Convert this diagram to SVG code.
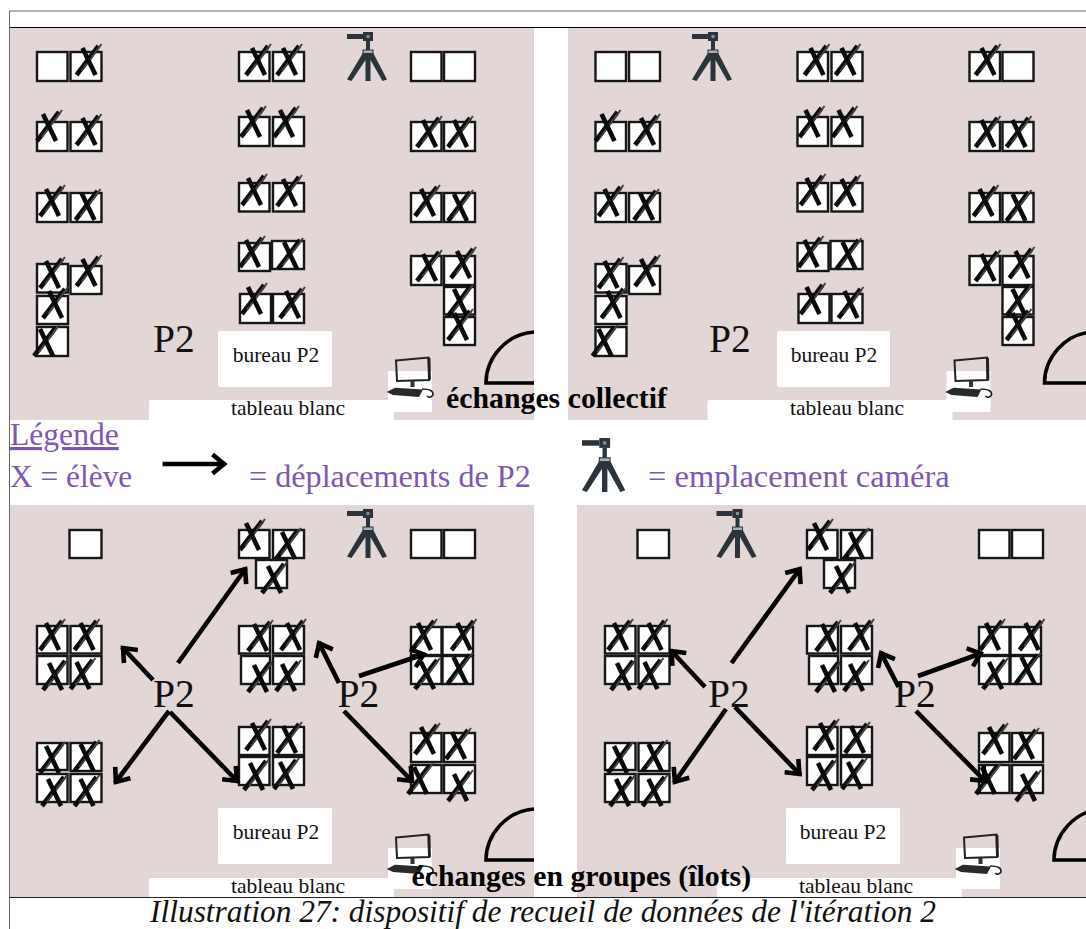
<svg xmlns="http://www.w3.org/2000/svg" width="1086" height="929" viewBox="0 0 1086 929">
<style>
.room{fill:#e2d6d6}
.wh{fill:#fff}
.d{fill:#fff;stroke:#161616;stroke-width:2.4}
.s{fill:none;stroke:#0a0a0a;stroke-width:4.6}
.s2{fill:none;stroke:#444;stroke-width:2}
.door{fill:none;stroke:#000;stroke-width:3.6}
.t{font-family:"Liberation Serif",serif;fill:#111}
.sm{font-size:21.5px;text-anchor:middle}
.p2{font-size:39.5px}
.b{font-weight:bold;font-size:29.8px;fill:#000}
.lg{font-size:32.2px;fill:#7e57b0}
.ar{fill:none;stroke:#000;stroke-width:4.6;marker-end:url(#head)}
.cam{fill:#2b333b}
.ink{fill:none;stroke:#222;stroke-width:2}
</style>
<defs>
<marker id="head" markerUnits="userSpaceOnUse" markerWidth="30" markerHeight="30" refX="17" refY="15" orient="auto">
<path d="M4,5.5 L15.5,15 L4,24.5" fill="none" stroke="#000" stroke-width="4.6"/>
</marker>
<g id="x">
<path class="s" d="M28,-6 L6,23"/><path class="s2" d="M31,-8 L11,19"/><path class="s" d="M12,-4 L25,23"/>
</g>
<g id="camera">
<rect class="cam" x="0" y="2" width="16" height="5"/>
<rect class="cam" x="16" y="0" width="10" height="9"/>
<rect x="19.5" y="3" width="3" height="3" fill="#8a8f94"/>
<rect class="cam" x="19" y="9" width="4" height="9"/>
<rect x="16" y="18" width="10" height="3.5" fill="#aab0b5" stroke="#2b333b" stroke-width="1"/>
<path class="cam" d="M15.5,21.5 L0,47.5 L4.5,49 L18.5,28 V49 H23.5 V28 L35.5,49 L40,47.5 L26.5,21.5 Z"/>
</g>
<g id="computer">
<path class="ink" d="M10,3.5 L42.5,0.5 L43,23 L11,24 Z"/>
<path d="M43,1 L43.5,23" stroke="#222" stroke-width="2.8" fill="none"/>
<rect x="24.5" y="24" width="4" height="6" fill="#333"/>
<path d="M0.7,35 L9,30.7 L37,32.5 L33,40 L7,38 Z" fill="#2a2a2a"/>
<path d="M36,32 Q48,32 47,38 Q44,42 41,39" fill="none" stroke="#222" stroke-width="1.6"/>
</g>
<g id="top-desks">
<rect class="d" x="37" y="122" width="30.5" height="29"/><use href="#x" x="31" y="118"/>
<rect class="d" x="70.5" y="122" width="31" height="29"/><use href="#x" x="70.5" y="122"/>
<rect class="d" x="37" y="193" width="30.5" height="29"/><use href="#x" x="34" y="193"/>
<rect class="d" x="70.5" y="193" width="31" height="29"/><use href="#x" x="69.5" y="197"/>
<rect class="d" x="37" y="264" width="31" height="28.5"/><use href="#x" x="34" y="265"/>
<rect class="d" x="70.5" y="266" width="31" height="28"/><use href="#x" x="70.5" y="263"/>
<rect class="d" x="37" y="296" width="31" height="28"/><use href="#x" x="37" y="295"/>
<rect class="d" x="37" y="327" width="31" height="29"/><use href="#x" x="28" y="333"/>
<rect class="d" x="239" y="52" width="30.5" height="29"/><use href="#x" x="240" y="52"/>
<rect class="d" x="273" y="52" width="31" height="29"/><use href="#x" x="271" y="52"/>
<rect class="d" x="239" y="117" width="30.5" height="29"/><use href="#x" x="235" y="114"/>
<rect class="d" x="273" y="117" width="31" height="29"/><use href="#x" x="268" y="114"/>
<rect class="d" x="239" y="183" width="30.5" height="28.5"/><use href="#x" x="236" y="182"/>
<rect class="d" x="273" y="183" width="31" height="28.5"/><use href="#x" x="271" y="183"/>
<rect class="d" x="239" y="243" width="31" height="28"/><use href="#x" x="234" y="244"/>
<rect class="d" x="272" y="241" width="32" height="28"/><use href="#x" x="272" y="246"/>
<rect class="d" x="240" y="294" width="31" height="29"/><use href="#x" x="236" y="291"/>
<rect class="d" x="273" y="294" width="31" height="29"/><use href="#x" x="274" y="295"/>
<rect class="d" x="411" y="122" width="30.5" height="29"/><use href="#x" x="411" y="124"/>
<rect class="d" x="444" y="122" width="31" height="29"/><use href="#x" x="442" y="124"/>
<rect class="d" x="411" y="193" width="30.5" height="29"/><use href="#x" x="409" y="193"/>
<rect class="d" x="444" y="193" width="31" height="29"/><use href="#x" x="442" y="198"/>
<rect class="d" x="411" y="256" width="30.5" height="29"/><use href="#x" x="411" y="258"/>
<rect class="d" x="444" y="256" width="31" height="29"/><use href="#x" x="445" y="255"/>
<rect class="d" x="444" y="287" width="31" height="27.5"/><use href="#x" x="442" y="293"/>
<rect class="d" x="444" y="317" width="31" height="28"/><use href="#x" x="442" y="317"/>
</g>
<g id="bottom-desks">
<rect class="d" x="239" y="530" width="30.5" height="28"/><use href="#x" x="234" y="527"/>
<rect class="d" x="273" y="530" width="31" height="28"/><use href="#x" x="270" y="536"/>
<rect class="d" x="256" y="560" width="31" height="28"/><use href="#x" x="256" y="570"/>
<rect class="d" x="37" y="626" width="30.5" height="27.5"/><use href="#x" x="34" y="627"/>
<rect class="d" x="70.5" y="626" width="31" height="27.5"/><use href="#x" x="68.5" y="627"/>
<rect class="d" x="37" y="656" width="30.5" height="28"/><use href="#x" x="37" y="667"/>
<rect class="d" x="70.5" y="656" width="31" height="28"/><use href="#x" x="64.5" y="666"/>
<rect class="d" x="37" y="743" width="30.5" height="27"/><use href="#x" x="34" y="750"/>
<rect class="d" x="70.5" y="743" width="31" height="28"/><use href="#x" x="68.5" y="748"/>
<rect class="d" x="37" y="774" width="30.5" height="28"/><use href="#x" x="36" y="783"/>
<rect class="d" x="70.5" y="774" width="31" height="28"/><use href="#x" x="68.5" y="783"/>
<rect class="d" x="239" y="626" width="31" height="27.5"/><use href="#x" x="242" y="628"/>
<rect class="d" x="273" y="626" width="31" height="27.5"/><use href="#x" x="275" y="627"/>
<rect class="d" x="241" y="656" width="29" height="28"/><use href="#x" x="242" y="669"/>
<rect class="d" x="273" y="656" width="31" height="28"/><use href="#x" x="270" y="668"/>
<rect class="d" x="239" y="727" width="30.5" height="28"/><use href="#x" x="240" y="727"/>
<rect class="d" x="273" y="727" width="31" height="28"/><use href="#x" x="271" y="730"/>
<rect class="d" x="239" y="757" width="30.5" height="28"/><use href="#x" x="238" y="767"/>
<rect class="d" x="273" y="757" width="31" height="28"/><use href="#x" x="268" y="766"/>
<rect class="d" x="411" y="627" width="30.5" height="28"/><use href="#x" x="406" y="627"/>
<rect class="d" x="442.5" y="627" width="30.5" height="28"/><use href="#x" x="445.5" y="627"/>
<rect class="d" x="411" y="656" width="30.5" height="28"/><use href="#x" x="409" y="666"/>
<rect class="d" x="442.5" y="656" width="30.5" height="28"/><use href="#x" x="441.5" y="661"/>
<rect class="d" x="411" y="733" width="30.5" height="29"/><use href="#x" x="409" y="731"/>
<rect class="d" x="444" y="733" width="31" height="29"/><use href="#x" x="440" y="736"/>
<rect class="d" x="411" y="765" width="30.5" height="28"/><use href="#x" x="402" y="771"/>
<rect class="d" x="444" y="765" width="31" height="28"/><use href="#x" x="442" y="778"/>
</g>
</defs>
<rect width="1086" height="929" fill="#fff"/>

<g id="panel-top-left">
<rect class="room" x="10" y="28" width="524" height="392"/>
<path class="wh" d="M149,420 V402 Q149,400 151,400 H388 V371 H432 V412 H394 V420 Z"/>
<rect class="wh" x="218" y="331" width="114" height="56" rx="2"/>
<text class="t sm" x="276" y="362">bureau P2</text>
<text class="t sm" x="288" y="415">tableau blanc</text>
<text class="t p2" x="153" y="352">P2</text>
<path class="door" d="M534,383 H486 C486,358 506,334 534,332"/>
<use href="#computer" x="386" y="357"/>
<use href="#top-desks"/>
<rect class="d" x="37" y="52" width="30.5" height="29"/>
<rect class="d" x="70.5" y="52" width="31" height="29"/><use href="#x" x="70.5" y="52"/>
<rect class="d" x="411" y="52" width="30.5" height="29"/>
<rect class="d" x="444" y="52" width="31" height="29"/>
<use href="#camera" x="347" y="32"/>
</g>

<g id="panel-top-right">
<rect class="room" x="568" y="28" width="518" height="392"/>
<path class="wh" d="M707.5,420 V402 Q707.5,400 709.5,400 H946.5 V371 H990.5 V412 H952.5 V420 Z"/>
<rect class="wh" x="777" y="331" width="113" height="56" rx="2"/>
<text class="t sm" x="834" y="362">bureau P2</text>
<text class="t sm" x="847" y="415">tableau blanc</text>
<text class="t p2" x="709" y="352">P2</text>
<path class="door" d="M1092,383 H1044.5 C1044.5,358 1064.5,334 1092,332"/>
<use href="#computer" x="944.5" y="357"/>
<use href="#top-desks" x="558.5"/>
<rect class="d" x="595.5" y="52" width="30.5" height="29"/>
<rect class="d" x="629" y="52" width="31" height="29"/>
<rect class="d" x="969.5" y="52" width="30.5" height="29"/><use href="#x" x="969.5" y="52"/>
<rect class="d" x="1002.5" y="52" width="31" height="29"/>
<use href="#camera" x="692" y="32"/>
</g>

<g id="panel-bottom-left">
<rect class="room" x="10" y="505" width="524" height="392"/>
<path class="wh" d="M149,897 V880 Q149,878 151,878 H388 V848 H432 V889 H394 V897 Z"/>
<rect class="wh" x="218" y="808" width="114" height="56" rx="2"/>
<text class="t sm" x="276" y="839">bureau P2</text>
<text class="t sm" x="288" y="893">tableau blanc</text>
<path class="door" d="M534,860 H486 C486,835 506,811 534,809"/>
<use href="#computer" x="386" y="834"/>
<use href="#bottom-desks"/>
<rect class="d" x="69.5" y="530" width="32" height="28"/>
<rect class="d" x="411" y="530" width="30.5" height="28"/>
<rect class="d" x="444" y="530" width="31" height="28"/>
<use href="#camera" x="347" y="509"/>
<text class="t p2" x="153" y="707">P2</text>
<text class="t p2" x="337.5" y="707">P2</text>
</g>

<g id="panel-bottom-right">
<rect class="room" x="577" y="505" width="509" height="392"/>
<path class="wh" d="M717,897 V880 Q717,878 719,878 H956 V848 H1000 V889 H962 V897 Z"/>
<rect class="wh" x="786" y="808" width="114" height="56" rx="2"/>
<text class="t sm" x="843" y="839">bureau P2</text>
<text class="t sm" x="856" y="893">tableau blanc</text>
<path class="door" d="M1102,860 H1054 C1054,835 1074,811 1102,809"/>
<use href="#computer" x="954" y="834"/>
<use href="#bottom-desks" x="568"/>
<rect class="d" x="637.5" y="530" width="31.5" height="28"/>
<rect class="d" x="979" y="530" width="30.5" height="28"/>
<rect class="d" x="1012" y="530" width="31" height="28"/>
<use href="#camera" x="716.5" y="509"/>
<text class="t p2" x="708" y="707">P2</text>
<text class="t p2" x="894" y="707">P2</text>
</g>

<g id="connectors">
<path class="ar" d="M178,663 L246,568"/>
<path class="ar" d="M153,680 L122,647"/>
<path class="ar" d="M169,711 L115,783"/>
<path class="ar" d="M170,712 L238,782"/>
<path class="ar" d="M339,683 L318.5,642"/>
<path class="ar" d="M359,676 L425,654"/>
<path class="ar" d="M344,711 L413,782"/>
<path class="ar" d="M731.5,663 L800.5,568"/>
<path class="ar" d="M705,687 L670.5,650"/>
<path class="ar" d="M726,709 L674,783"/>
<path class="ar" d="M735,707 L800.5,775"/>
<path class="ar" d="M898.6,687 L880.5,652"/>
<path class="ar" d="M918,676 L982,653"/>
<path class="ar" d="M916,711 L986,782"/>
<path class="ar" d="M162.5,464 L225.5,464"/>
</g>

<g id="legend">
<text class="t lg" x="10" y="445" style="font-size:31.6px" text-decoration="underline">Légende</text>
<text class="t lg" x="10" y="487" style="font-size:31.4px">X = élève</text>
<text class="t lg" x="249" y="487">= déplacements de P2</text>
<use href="#camera" transform="translate(582,438) scale(1.08,1.1)"/>
<text class="t lg" x="648" y="487" style="font-size:32.5px">= emplacement caméra</text>
</g>

<g id="titles">
<text class="t b" x="446" y="408">échanges collectif</text>
<text class="t b" x="411.5" y="886">échanges en groupes (îlots)</text>
<text class="t" x="543" y="922" font-size="31.4" font-style="italic" text-anchor="middle">Illustration 27: dispositif de recueil de données de l'itération 2</text>
</g>

<g id="frame" fill="none">
<path d="M9.5,929 V11 H1086" stroke="#666" stroke-width="1"/>
<path d="M10,27.5 H1086" stroke="#000" stroke-width="1"/>
<path d="M10,897.5 H1086" stroke="#222" stroke-width="1"/>
</g>
</svg>
